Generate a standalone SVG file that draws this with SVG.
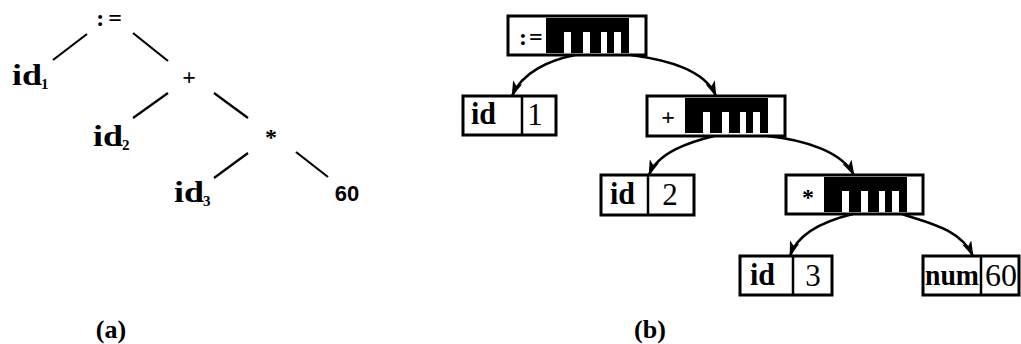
<svg xmlns="http://www.w3.org/2000/svg" width="1021" height="344" viewBox="0 0 1021 344">
<style>
.bx{fill:#fff;stroke:#000;stroke-width:3}
.dv{stroke:#000;stroke-width:2.5}
.tl{stroke:#000;stroke-width:2.2;fill:none}
.ar{stroke:#000;stroke-width:2.6;fill:none;marker-end:url(#ah)}
.sb{font-family:"Liberation Serif",serif;font-weight:bold;fill:#000}
.sr{font-family:"Liberation Serif",serif;fill:#000}
.ss{font-family:"Liberation Sans",sans-serif;font-weight:bold;fill:#000}
</style>
<defs>
<marker id="ah" viewBox="0 0 16 10" refX="15" refY="5" markerWidth="16" markerHeight="10" markerUnits="userSpaceOnUse" orient="auto">
<path d="M0,0 L16,5 L0,10 L4,5 Z" fill="#000"/>
</marker>
<path id="comb" d="M38,2 H121 V37 H113 V16 H106 V37 H99 V16 H93 V37 H82 V16 H75 V37 H63 V16 H56 V37 H38 Z" fill="#000"/>
</defs>

<!-- (a) syntax tree -->
<g id="tree-a">
<g id="a-assign"><text class="sb" x="111" y="26" font-size="24" text-anchor="middle" letter-spacing="4">:=</text></g>
<g id="a-id1"><text class="sb" x="12" y="85" font-size="29" textLength="30" lengthAdjust="spacingAndGlyphs">id</text><text class="sb" x="41" y="89" font-size="15">1</text></g>
<g id="a-plus"><text class="sb" x="189" y="85" font-size="24" text-anchor="middle">+</text></g>
<g id="a-id2"><text class="sb" x="93" y="146" font-size="29" textLength="30" lengthAdjust="spacingAndGlyphs">id</text><text class="sb" x="122" y="150" font-size="15">2</text></g>
<g id="a-mul"><text class="sb" x="271" y="145" font-size="24" text-anchor="middle">*</text></g>
<g id="a-id3"><text class="sb" x="174" y="202" font-size="29" textLength="30" lengthAdjust="spacingAndGlyphs">id</text><text class="sb" x="203" y="206" font-size="15">3</text></g>
<g id="a-60"><text class="ss" x="347" y="201" font-size="22" text-anchor="middle">60</text></g>
<g id="a-edges">
<line class="tl" x1="53" y1="60" x2="87" y2="34"/>
<line class="tl" x1="133" y1="33" x2="168" y2="61"/>
<line class="tl" x1="133" y1="118" x2="168" y2="93"/>
<line class="tl" x1="214" y1="93" x2="248" y2="118"/>
<line class="tl" x1="214" y1="178" x2="248" y2="153"/>
<line class="tl" x1="296" y1="152" x2="328" y2="177"/>
</g>
</g>

<!-- (b) syntax tree data structure -->
<g id="b-assign">
<rect class="bx" x="508" y="16" width="138" height="39"/>
<use href="#comb" x="508" y="16"/>
<text class="sb" x="519" y="45" font-size="24" letter-spacing="2">:=</text>
</g>
<g id="b-plus">
<rect class="bx" x="647" y="96" width="138" height="40"/>
<use href="#comb" x="647" y="96"/>
<text class="sb" x="668" y="125" font-size="24" text-anchor="middle">+</text>
</g>
<g id="b-mul">
<rect class="bx" x="786" y="175" width="137" height="39"/>
<use href="#comb" x="786" y="175"/>
<text class="sb" x="808" y="205" font-size="24" text-anchor="middle">*</text>
</g>
<g id="b-id1">
<rect class="bx" x="463" y="96" width="93" height="39"/>
<line class="dv" x1="522" y1="96" x2="522" y2="135"/>
<text class="sb" x="471" y="124" font-size="31" textLength="25" lengthAdjust="spacingAndGlyphs">id</text>
<text class="sr" x="535" y="125" font-size="31" text-anchor="middle">1</text>
</g>
<g id="b-id2">
<rect class="bx" x="601" y="175" width="93" height="40"/>
<line class="dv" x1="648" y1="175" x2="648" y2="215"/>
<text class="sb" x="610" y="204" font-size="31" textLength="25" lengthAdjust="spacingAndGlyphs">id</text>
<text class="sr" x="670" y="205" font-size="31" text-anchor="middle">2</text>
</g>
<g id="b-id3">
<rect class="bx" x="740" y="256" width="92" height="39"/>
<line class="dv" x1="793" y1="256" x2="793" y2="295"/>
<text class="sb" x="750" y="285" font-size="31" textLength="25" lengthAdjust="spacingAndGlyphs">id</text>
<text class="sr" x="813" y="286" font-size="31" text-anchor="middle">3</text>
</g>
<g id="b-num">
<rect class="bx" x="923" y="256" width="96" height="39"/>
<line class="dv" x1="981" y1="256" x2="981" y2="295"/>
<text class="sb" x="925" y="285" font-size="29" textLength="54" lengthAdjust="spacingAndGlyphs">num</text>
<text class="sr" x="1001" y="286" font-size="31" text-anchor="middle" textLength="32" lengthAdjust="spacingAndGlyphs">60</text>
</g>

<g id="connectors">
<path class="ar" d="M575,55 C550,60 522,72 512,96"/>
<path class="ar" d="M631,55 C668,60 705,70 716,96"/>
<path class="ar" d="M714,136 C690,142 658,152 649,175"/>
<path class="ar" d="M767,136 C806,140 842,152 854,175"/>
<path class="ar" d="M853,214 C828,220 798,232 790,256"/>
<path class="ar" d="M902,214 C925,222 960,228 973,256"/>
</g>

<g id="captions">
<text class="sb" x="111" y="338" font-size="26" text-anchor="middle">(a)</text>
<text class="sb" x="650" y="338" font-size="26" text-anchor="middle">(b)</text>
</g>
</svg>
